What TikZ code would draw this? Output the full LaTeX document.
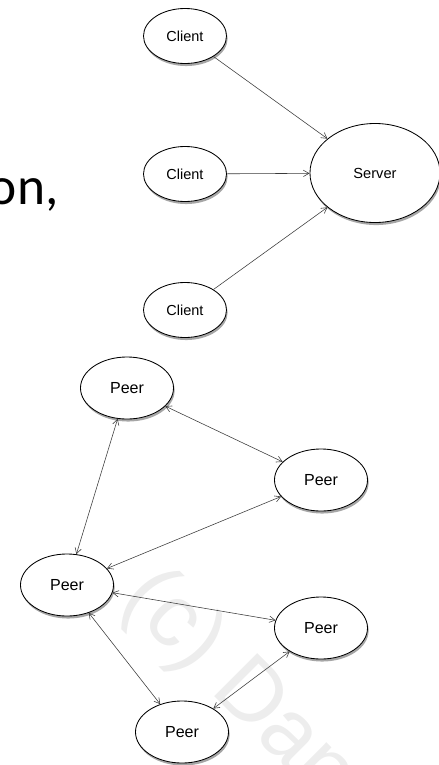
\documentclass[tikz,border=0pt]{standalone}
\usepackage{fontspec}
\setmainfont{Liberation Sans}
\newfontfamily\slidefont{Carlito}
\usetikzlibrary{arrows.meta, shapes.geometric, shadows}
\usepackage{xcolor}
\definecolor{cLine}{HTML}{3A3A3A}
\definecolor{cMark}{HTML}{EDEDED}
\tikzset{
  hostnode/.style={
    ellipse, draw=black, fill=white, line width=0.6pt, inner sep=0pt,
    drop shadow={shadow xshift=0.8pt, shadow yshift=-1.8pt, opacity=0.35, fill=black},
  },
  clientnode/.style={
    hostnode, minimum width=2.075cm, minimum height=1.375cm,
    font=\fontsize{10.3}{12}\selectfont,
  },
  servernode/.style={
    hostnode, minimum width=3.25cm, minimum height=2.475cm,
    font=\fontsize{10.4}{12}\selectfont,
  },
  peernode/.style={
    hostnode, minimum width=2.325cm, minimum height=1.55cm,
    font=\fontsize{11.4}{13}\selectfont,
  },
  link/.style={->, line width=0.4pt, color=cLine},
  duplex/.style={<->, line width=0.4pt, color=cLine},
}

\begin{document}
\begin{tikzpicture}[x=0.025cm, y=-0.025cm, >={Straight Barb[length=4pt, width=4.5pt]}]
  \useasboundingbox (0,0) rectangle (439,765);

  % Watermark and slide text behind the diagrams
  \node[rotate=-45, anchor=base west, inner sep=0pt, text=cMark,
        font=\fontsize{63}{63}\selectfont]
    (mark) at (119,601) {(c) Dan};
  \node[anchor=base west, font=\slidefont\fontsize{38}{38}\selectfont]
    (slide) at (-16,204) {on,};

  % Client-server
  \node[clientnode] (client1) at (185,36) {Client};
  \node[clientnode] (client2) at (185,174) {Client};
  \node[clientnode] (client3) at (185,310) {Client};
  \node[servernode] (server) at (375,173) {Server};

  \draw[link] (client1) -- (server);
  \draw[link] (client2) -- (server);
  \draw[link] (client3) -- (server);

  % Peer-to-peer
  \node[peernode] (peerT) at (127,388) {Peer};
  \node[peernode] (peerR1) at (321,480) {Peer};
  \node[peernode] (peerL) at (67,585) {Peer};
  \node[peernode] (peerR2) at (321,628) {Peer};
  \node[peernode] (peerB) at (182,732) {Peer};

  \draw[duplex] (peerT) -- (peerR1);
  \draw[duplex] (peerT) -- (peerL);
  \draw[duplex] (peerR1) -- (peerL);
  \draw[duplex] (peerL) -- (peerR2);
  \draw[duplex] (peerL) -- (peerB);
  \draw[duplex] (peerR2) -- (peerB);

\end{tikzpicture}
\end{document}
